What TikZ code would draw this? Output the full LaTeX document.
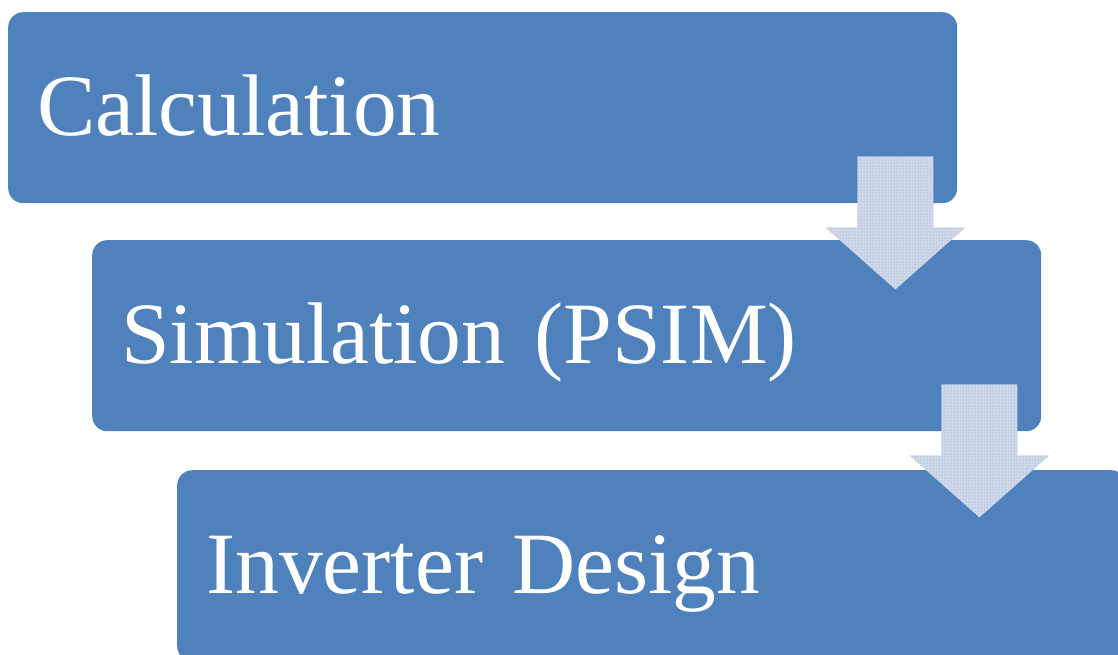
\documentclass[tikz,border=0pt]{standalone}
\usepackage{fontspec}
\setmainfont[WordSpace=0.8]{Liberation Serif}
\usepackage{xcolor}
\usetikzlibrary{positioning,calc,patterns}

\definecolor{stepblue}{HTML}{4F81BD}
\definecolor{arrowlight}{HTML}{D0D9EA}
\definecolor{arrowdot}{HTML}{7696CB}

\begin{document}
\begin{tikzpicture}[
x=1pt, y=-1pt,
stage/.style={fill=stepblue, rounded corners=15pt, anchor=north west,
              minimum width=949pt, minimum height=191pt, inner xsep=29pt,
              text width=891pt, align=left, text=white,
              text height=70pt, text depth=14pt,
              font=\fontsize{87.5}{100}\selectfont},
downarrow/.style={fill=arrowlight},
downdots/.style={pattern=dots, pattern color=arrowdot}
]
\useasboundingbox (0,0) rectangle (1118,655);
\clip (0,0) rectangle (1118,655);

\node[stage] (calc) at (8,12) {Calculation};
\node[stage] (sim) at (92,240) {Simulation (PSIM)};
\node[stage] (design) at (177,470) {Inverter Design};

% block arrows between the stages
\foreach \from in {calc, sim}{
  \path[downarrow] ($(\from.south east)+(-62,-47)$) ++(-38,0) -- ++(76,0)
    -- ++(0,71) -- ++(32,0) -- ++(-70,62) -- ++(-70,-62) -- ++(32,0) -- cycle;
  \path[downdots] ($(\from.south east)+(-62,-47)$) ++(-38,0) -- ++(76,0)
    -- ++(0,71) -- ++(32,0) -- ++(-70,62) -- ++(-70,-62) -- ++(32,0) -- cycle;
}
\end{tikzpicture}
\end{document}
